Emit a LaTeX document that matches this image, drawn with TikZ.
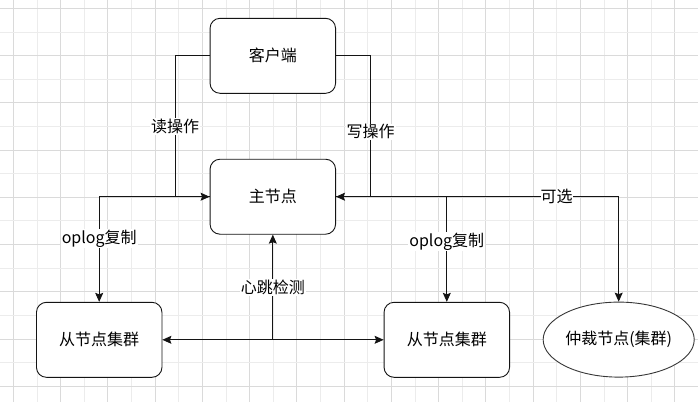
\documentclass[tikz,border=0pt]{standalone}
\usepackage{fontspec}
\setmainfont{Noto Sans CJK SC}
\usetikzlibrary{arrows.meta,shapes.geometric,calc}
\definecolor{gmajor}{RGB}{218,218,218}
\definecolor{gminor}{RGB}{236,236,236}
\definecolor{edge}{RGB}{20,20,20}
\tikzset{
  box/.style={draw=edge,line width=0.9pt,rounded corners=10pt,minimum width=125.5pt,minimum height=75pt,inner sep=0pt,fill=white,font=\fontsize{16}{19}\selectfont},
  oval/.style={draw=edge!85,line width=0.9pt,ellipse,minimum width=126pt,minimum height=75pt,inner sep=0pt,fill=white,font=\fontsize{16}{19}\selectfont},
  arr/.style={draw=edge,line width=0.9pt,-{Stealth[length=9pt,width=8pt,inset=1.5pt]}},
  lnk/.style={draw=edge,line width=0.9pt},
  lbl/.style={fill=white,inner sep=1pt,font=\fontsize{16}{19}\selectfont}
}
\begin{document}
\begin{tikzpicture}[x=1pt,y=-1pt]
\useasboundingbox (0,0) rectangle (698,402);
\fill[white] (0,0) rectangle (698,402);
% grid
\foreach \i in {0,...,29}{
  \pgfmathsetmacro{\gx}{13.4+\i*23.62}
  \pgfmathtruncatemacro{\odd}{mod(\i,2)}
  \ifnum\odd=0
    \draw[gmajor,line width=0.8pt] (\gx,0) -- (\gx,402);
  \else
    \draw[gminor,line width=0.8pt] (\gx,0) -- (\gx,402);
  \fi
}
\foreach \j in {0,...,16}{
  \pgfmathsetmacro{\gy}{8.3+\j*23.62}
  \pgfmathtruncatemacro{\odd}{mod(\j,2)}
  \ifnum\odd=0
    \draw[gmajor,line width=0.8pt] (0,\gy) -- (698,\gy);
  \else
    \draw[gminor,line width=0.8pt] (0,\gy) -- (698,\gy);
  \fi
}
% nodes
\node[box] (client) at (272.8,55.8) {客户端};
\node[box] (main) at (272.8,196.7) {主节点};
\node[box] (s1) at (99.2,339.8) {从节点集群};
\node[box] (s2) at (446.8,339.8) {从节点集群};
\node[oval] (arb) at (618.7,339.6) {仲裁节点(集群)};
% edges
\draw[arr] (client.west) -- ++(-34.5,0) |- node[lbl,pos=0.25] {读操作} (main.west);
\draw[arr] (client.east) -- ++(34.5,0) |- node[lbl,pos=0.27] {写操作} (main.east);
\draw[arr] (main.west) -| node[lbl,pos=0.7] {oplog复制} (s1.north);
\draw[arr] (main.east) -| node[lbl,pos=0.713] {oplog复制} (s2.north);
\draw[arr] (main.east) -| node[lbl,pos=0.39,inner sep=0pt] {可选} (arb.north);
\coordinate (hb) at (main.south |- s1.east);
\draw[arr] (hb) -- node[lbl,midway] {心跳检测} (main.south);
\draw[arr] (hb) -- (s1.east);
\draw[arr] (hb) -- (s2.west);
\end{tikzpicture}
\end{document}
